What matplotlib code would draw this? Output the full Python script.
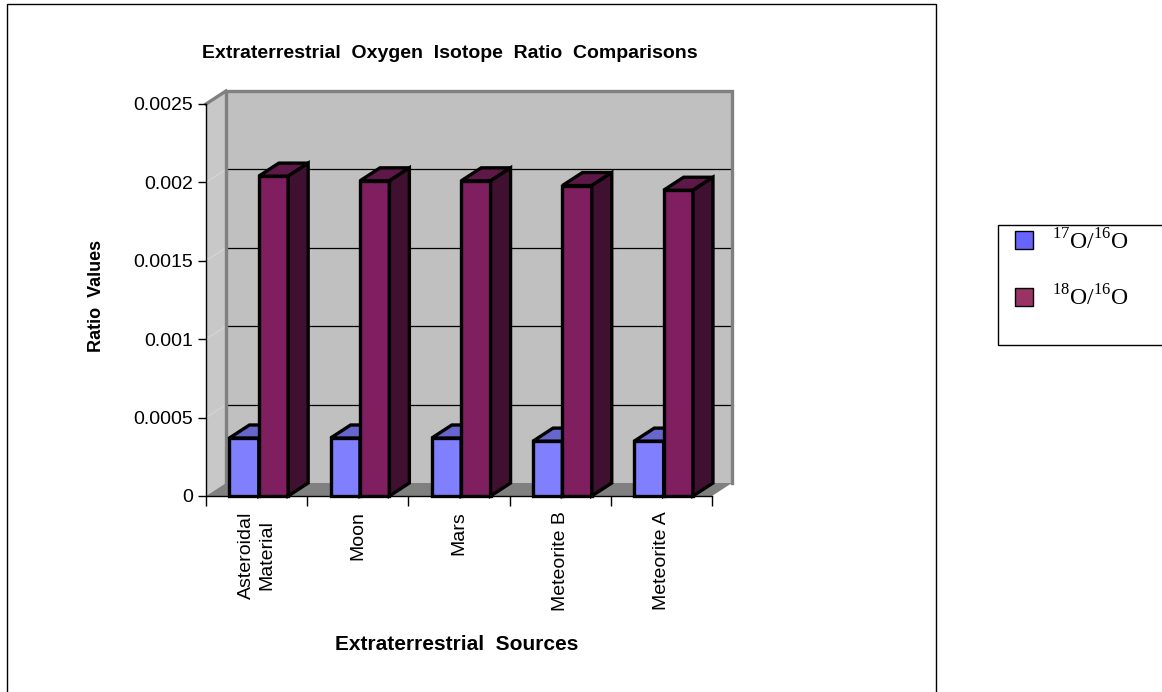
import numpy as np
import matplotlib.pyplot as plt
from matplotlib.patches import Polygon, Rectangle

plt.rcParams['font.family'] = 'Liberation Sans'
plt.rcParams['mathtext.fontset'] = 'custom'
plt.rcParams['mathtext.rm'] = 'Liberation Serif'

# Data
categories = ['Asteroidal\nMaterial', 'Moon', 'Mars', 'Meteorite B', 'Meteorite A']
ratio_17 = [0.00037, 0.00037, 0.00037, 0.00035, 0.00035]
ratio_18 = [0.00204, 0.00201, 0.00201, 0.00198, 0.00195]
series_labels = [r'$^{17}$O/$^{16}$O', r'$^{18}$O/$^{16}$O']
y_ticks = [0, 0.0005, 0.001, 0.0015, 0.002, 0.0025]
y_tick_labels = ['0', '0.0005', '0.001', '0.0015', '0.002', '0.0025']

# colours: front, top, side
blue = ('#8080FF', '#6666CC', '#4D4D99')
purple = ('#7F1F5F', '#5E1848', '#3F1030')
legend_colors = ['#6666FF', '#993366']

W, H = 1162, 692
fig = plt.figure(figsize=(W / 100, H / 100), dpi=100)

# front plane of the 3D box (pixels)
left, right, top, bottom = 206, 712, 104, 496
ax = fig.add_axes([left / W, 1 - bottom / H, (right - left) / W, (bottom - top) / H])
n = len(categories)
ax.set_xlim(-0.5, n - 0.5)
ax.set_ylim(0, y_ticks[-1])
ax.patch.set_alpha(0)

# depth offset, pixels -> data units
dx = 20 * n / (right - left)
dy = 13 * y_ticks[-1] / (bottom - top)
x0, x1 = -0.5, n - 0.5
ymax = y_ticks[-1]

# walls and floor
ax.add_patch(Polygon([(x0, 0), (x0, ymax), (x0 + dx, ymax + dy), (x0 + dx, dy)],
                     closed=True, fc='#C8C8C8', ec='none', clip_on=False, zorder=0))
ax.add_patch(Rectangle((x0 + dx, dy), x1 - x0, ymax, fc='#C0C0C0', ec='none',
                       clip_on=False, zorder=0))
for t in y_ticks[1:-1]:
    ax.plot([x0 + dx, x1 + dx], [t + dy, t + dy], color='black', lw=0.9,
            clip_on=False, zorder=1)
    ax.plot([x0, x0 + dx], [t, t + dy], color='#D6D6D6', lw=0.8,
            clip_on=False, zorder=1)
ax.add_patch(Polygon([(x0, 0), (x1, 0), (x1 + dx, dy), (x0 + dx, dy)],
                     closed=True, fc='#808080', ec='none', clip_on=False, zorder=1))
# wall borders
ax.plot([x0 + dx, x0 + dx, x1 + dx, x1 + dx], [dy, ymax + dy, ymax + dy, dy],
        color='#808080', lw=2.4, clip_on=False, zorder=1, solid_joinstyle='miter')
ax.plot([x0, x0 + dx], [ymax, ymax + dy], color='#808080', lw=2.4,
        clip_on=False, zorder=1)

bar_w = 0.29
offset = -0.268
edge_lw = 2.4


def draw_bars(xs, values, cols, z):
    ax.bar(xs, values, width=bar_w, align='edge', color=cols[0], edgecolor='black',
           linewidth=edge_lw, zorder=z, clip_on=False)
    for x, v in zip(xs, values):
        top_face = [(x, v), (x + bar_w, v), (x + bar_w + dx, v + dy), (x + dx, v + dy)]
        side_face = [(x + bar_w, 0), (x + bar_w, v), (x + bar_w + dx, v + dy),
                     (x + bar_w + dx, dy)]
        ax.add_patch(Polygon(top_face, closed=True, fc=cols[1], ec='black', lw=edge_lw,
                             joinstyle='miter', clip_on=False, zorder=z))
        ax.add_patch(Polygon(side_face, closed=True, fc=cols[2], ec='black', lw=edge_lw,
                             joinstyle='miter', clip_on=False, zorder=z))


xs = np.arange(n) + offset
draw_bars(xs, ratio_17, blue, 3)
draw_bars(xs + bar_w, ratio_18, purple, 4)

# axes
for s in ['top', 'right']:
    ax.spines[s].set_visible(False)
for s in ['left', 'bottom']:
    ax.spines[s].set_linewidth(1)
    ax.spines[s].set_zorder(5)
ax.set_yticks(y_ticks, y_tick_labels, fontsize=14)
ax.tick_params(axis='y', length=6, width=1, pad=3)
ax.set_xticks(range(n), categories, rotation=90, fontsize=14, va='top', ha='center')
ax.set_xticks(np.arange(n + 1) - 0.5, minor=True)
ax.tick_params(axis='x', which='major', length=0, pad=11)
ax.tick_params(axis='x', which='minor', length=7, width=1)

# titles
fig.text(450 / W, 1 - 53 / H, 'Extraterrestrial  Oxygen  Isotope  Ratio  Comparisons',
         ha='center', va='center', fontsize=14, fontweight='bold')
fig.text(97 / W, 1 - 296 / H, 'Ratio  Values', ha='center', va='center',
         rotation=90, fontsize=13, fontweight='bold')
fig.text(457 / W, 1 - 645 / H, 'Extraterrestrial  Sources', ha='center', va='center',
         fontsize=15, fontweight='bold')

# chart border
fig.patches.append(Rectangle((7 / W, -0.05), (936 - 7) / W, 1.05 - 4 / H,
                             transform=fig.transFigure, fill=False, ec='black', lw=1))

# legend
fig.patches.append(Rectangle((998 / W, 1 - 345 / H), 200 / W, 120 / H,
                             transform=fig.transFigure, fill=False, ec='black', lw=1))
for k, (lab, col) in enumerate(zip(series_labels, legend_colors)):
    y_sq = 231 + k * 57
    fig.patches.append(Rectangle((1015 / W, 1 - (y_sq + 18) / H), 18 / W, 18 / H,
                                 transform=fig.transFigure, fc=col, ec='black', lw=1))
    fig.text(1052 / W, 1 - (y_sq + 18) / H, lab, ha='left', va='baseline',
             fontsize=17, family='Liberation Serif')

fig.savefig('out.png', dpi=100)
